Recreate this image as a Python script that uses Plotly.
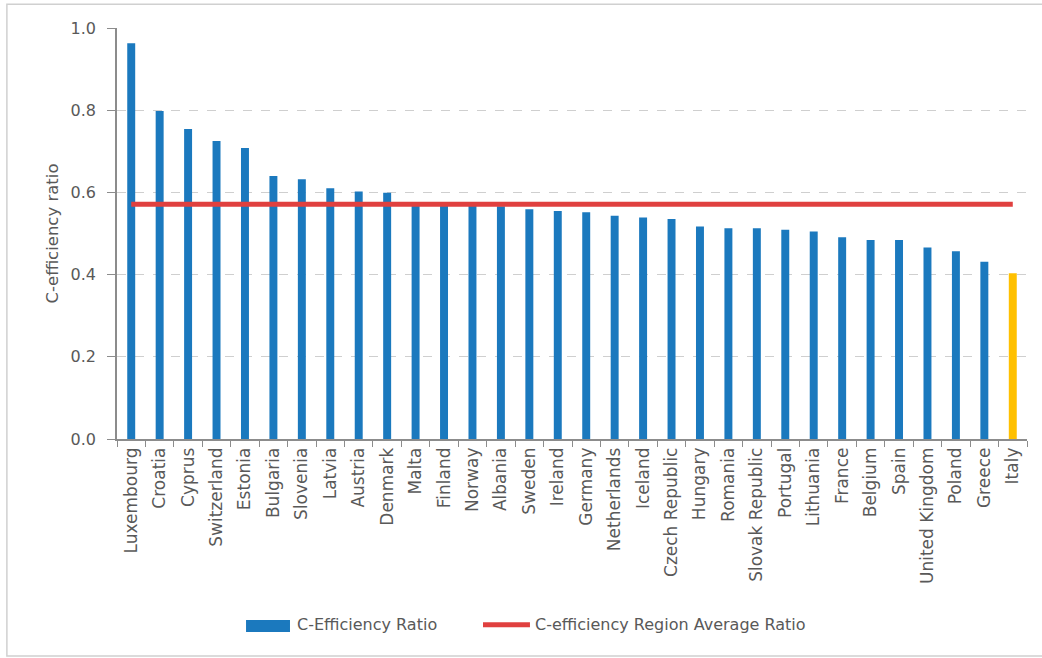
import plotly.graph_objects as go

countries = [
    "Luxembourg", "Croatia", "Cyprus", "Switzerland", "Estonia", "Bulgaria",
    "Slovenia", "Latvia", "Austria", "Denmark", "Malta", "Finland", "Norway",
    "Albania", "Sweden", "Ireland", "Germany", "Netherlands", "Iceland",
    "Czech Republic", "Hungary", "Romania", "Slovak Republic", "Portugal",
    "Lithuania", "France", "Belgium", "Spain", "United Kingdom", "Poland",
    "Greece", "Italy",
]
c_efficiency = [
    0.963, 0.798, 0.754, 0.725, 0.708, 0.640,
    0.632, 0.610, 0.602, 0.599, 0.569, 0.568, 0.567,
    0.566, 0.559, 0.555, 0.552, 0.543, 0.539,
    0.535, 0.517, 0.513, 0.513, 0.509,
    0.505, 0.491, 0.484, 0.484, 0.466, 0.457,
    0.431, 0.403,
]
region_average = 0.571
highlight = "Italy"

bar_name = "C-Efficiency Ratio"
line_name = "C-efficiency Region Average Ratio"

BLUE = "#1b79be"
GOLD = "#ffc000"
RED = "#e0403f"
GREY_TEXT = "#595959"
AXIS_GREY = "#8c8c8c"
FONT = "DejaVu Sans, Open Sans, sans-serif"

bar_colors = [GOLD if c == highlight else BLUE for c in countries]

fig = go.Figure()
fig.add_trace(go.Bar(
    x=countries,
    y=c_efficiency,
    marker=dict(color=bar_colors, line=dict(width=0)),
    name=bar_name,
    showlegend=False,
))
fig.add_trace(go.Scatter(
    x=countries,
    y=[region_average] * len(countries),
    mode="lines",
    line=dict(color=RED, width=5),
    name=line_name,
    showlegend=False,
))

# legend drawn below the plot: key swatches as shapes, labels as annotations
legend_y = -0.452
shapes = [
    # outer frame of the chart
    dict(type="rect", xref="paper", yref="paper",
         x0=-0.121, x1=1.03, y0=-0.528, y1=1.058,
         line=dict(color="#d0d0d0", width=1.5),
         fillcolor="rgba(0,0,0,0)", layer="below"),
    # bar key
    dict(type="rect", xref="paper", yref="paper",
         x0=0.1418, x1=0.1901, y0=-0.4696, y1=-0.4404,
         line=dict(width=0), fillcolor=BLUE),
    # line key
    dict(type="line", xref="paper", yref="paper",
         x0=0.4022, x1=0.4538, y0=legend_y, y1=legend_y,
         line=dict(color=RED, width=5)),
]
annotations = [
    dict(text=bar_name, xref="paper", yref="paper", x=0.1956, y=legend_y,
         xanchor="left", yanchor="middle", showarrow=False,
         font=dict(family=FONT, size=16, color=GREY_TEXT)),
    dict(text=line_name, xref="paper", yref="paper", x=0.4571, y=legend_y,
         xanchor="left", yanchor="middle", showarrow=False,
         font=dict(family=FONT, size=16, color=GREY_TEXT)),
]

fig.update_layout(
    width=1042,
    height=658,
    margin=dict(l=117, r=15, t=28, b=219),
    paper_bgcolor="white",
    plot_bgcolor="white",
    bargap=0.72,
    font=dict(family=FONT, size=15, color=GREY_TEXT),
    showlegend=False,
    xaxis=dict(
        type="category",
        tickangle=-90,
        showgrid=False,
        showline=True,
        linecolor=AXIS_GREY,
        linewidth=1.5,
        ticks="outside",
        tickson="boundaries",
        ticklen=6,
        tickcolor=AXIS_GREY,
        tickfont=dict(family=FONT, size=17, color=GREY_TEXT),
        range=[-0.5, len(countries) - 0.5],
    ),
    yaxis=dict(
        range=[0, 1.0],
        tick0=0,
        dtick=0.2,
        tickformat=".1f",
        showgrid=True,
        gridcolor="#cfcfcf",
        griddash="dash",
        gridwidth=1,
        showline=True,
        linecolor=AXIS_GREY,
        linewidth=1.5,
        ticks="outside",
        ticklen=8,
        tickcolor=AXIS_GREY,
        ticklabelstandoff=8,
        tickfont=dict(family=FONT, size=16, color=GREY_TEXT),
        zeroline=False,
        title=dict(text="C-efficiency ratio",
                   font=dict(family=FONT, size=16.5, color=GREY_TEXT),
                   standoff=8),
    ),
    shapes=shapes,
    annotations=annotations,
)

fig.write_html("out.html")
